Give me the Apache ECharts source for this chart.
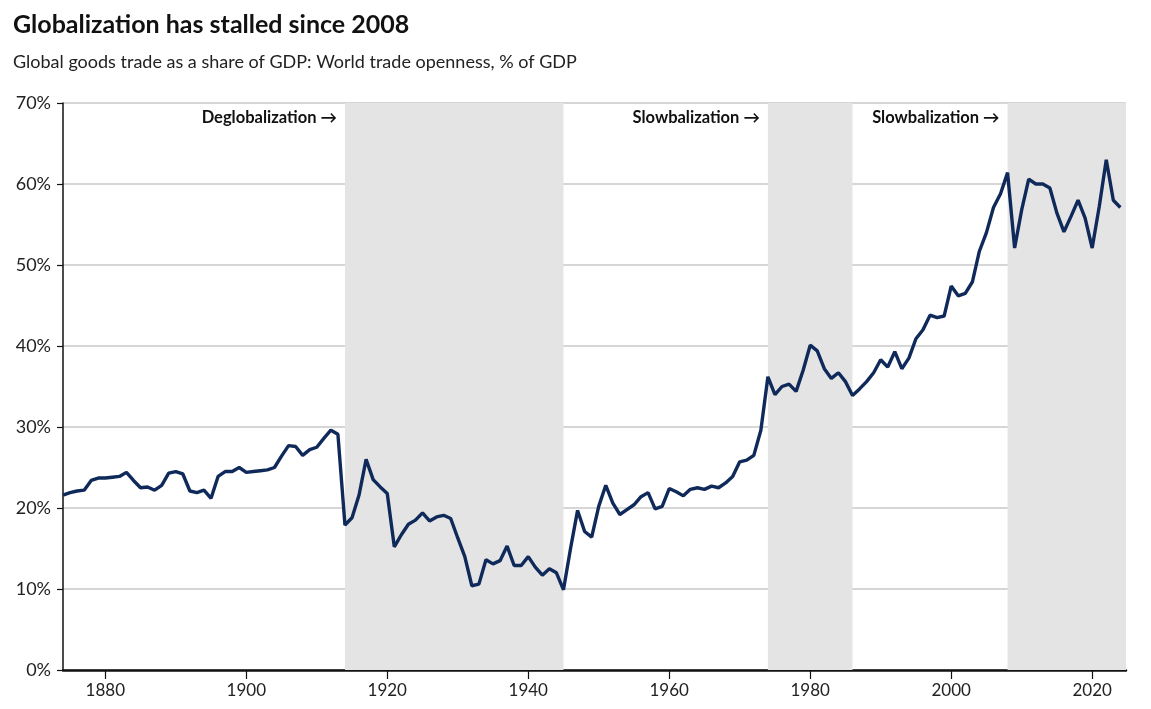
<!DOCTYPE html>
<html>
<head>
<meta charset="utf-8">
<script src="https://cdn.jsdelivr.net/npm/echarts@6/dist/echarts.min.js"></script>
<style>
  html, body { margin: 0; padding: 0; background: #fff; }
  #chart { width: 1151px; height: 709px; }
</style>
</head>
<body>
<div id="chart"></div>
<script>
// world trade openness, % of GDP, one value per year from firstYear
var firstYear = 1874;
var openness = [
    21.6, 21.9, 22.1, 22.2, 23.4, 23.7, 23.7, 23.8, 23.9, 24.4, // 1874-1883
    23.4, 22.5, 22.6, 22.2, 22.8, 24.3, 24.5, 24.2, 22.1, 21.9, // 1884-1893
    22.2, 21.2, 23.9, 24.5, 24.5, 25.0, 24.4, 24.5, 24.6, 24.7, // 1894-1903
    25.0, 26.4, 27.7, 27.6, 26.5, 27.2, 27.5, 28.6, 29.6, 29.1, // 1904-1913
    17.9, 18.8, 21.6, 26.0, 23.5, 22.6, 21.8, 15.2, 16.7, 18.0, // 1914-1923
    18.5, 19.4, 18.4, 18.9, 19.1, 18.7, 16.3, 14.0, 10.4, 10.6, // 1924-1933
    13.6, 13.1, 13.5, 15.3, 12.9, 12.9, 14.0, 12.7, 11.7, 12.5, // 1934-1943
    12.0, 9.9, 15.0, 19.7, 17.1, 16.4, 20.2, 22.8, 20.6, 19.2,  // 1944-1953
    19.8, 20.4, 21.4, 21.9, 19.9, 20.2, 22.4, 22.0, 21.5, 22.3, // 1954-1963
    22.5, 22.3, 22.7, 22.5, 23.1, 23.9, 25.7, 25.9, 26.5, 29.6, // 1964-1973
    36.2, 34.0, 35.0, 35.3, 34.4, 37.0, 40.1, 39.4, 37.2, 36.0, // 1974-1983
    36.7, 35.6, 33.9, 34.7, 35.6, 36.7, 38.3, 37.4, 39.3, 37.2, // 1984-1993
    38.5, 40.9, 42.0, 43.8, 43.5, 43.7, 47.4, 46.2, 46.5, 47.9, // 1994-2003
    51.7, 54.0, 57.1, 58.8, 61.4, 52.1, 56.8, 60.6, 60.0, 60.0, // 2004-2013
    59.5, 56.4, 54.1, 56.0, 58.0, 55.8, 52.1, 57.2, 63.0, 58.0, // 2014-2023
    57.1                                                        // 2024
];

var tickYears = [1880, 1900, 1920, 1940, 1960, 1980, 2000, 2020];

// shaded periods
var shadeStarts = [1914, 1974, 2008];
var shadeEnds = [1945, 1986, 2024.8];
var shadeLabels = ['Deglobalization \u2192', 'Slowbalization \u2192', 'Slowbalization \u2192'];

var chart = echarts.init(document.getElementById('chart'));

var lineData = [];
for (var i = 0; i < openness.length; i++) {
    lineData.push([firstYear + i, openness[i]]);
}

var areas = [];
for (var j = 0; j < shadeStarts.length; j++) {
    areas.push([
        { xAxis: shadeStarts[j], name: shadeLabels[j] },
        { xAxis: shadeEnds[j] }
    ]);
}

var font = 'Lato';

var option = {
    animation: false,
    textStyle: { fontFamily: font },
    title: {
        text: 'Globalization has stalled since 2008',
        subtext: 'Global goods trade as a share of GDP: World trade openness, % of GDP',
        left: 8,
        top: 7,
        itemGap: 16,
        textStyle: { fontFamily: font, fontSize: 25, fontWeight: 'bold', color: '#111' },
        subtextStyle: { fontFamily: font, fontSize: 18, color: '#222' }
    },
    grid: { left: 63, right: 25, top: 103, bottom: 39 },
    xAxis: {
        type: 'value',
        min: firstYear,
        max: 2024.8,
        splitLine: { show: false },
        axisLine: { show: true, onZero: false, lineStyle: { color: '#111', width: 2.5 } },
        axisTick: { show: true, customValues: tickYears, length: 9, lineStyle: { color: '#111', width: 1.2 } },
        axisLabel: {
            customValues: tickYears,
            formatter: function(v) { return String(v); },
            fontSize: 17, color: '#222', margin: 12, fontFamily: font
        }
    },
    yAxis: {
        type: 'value',
        min: 0,
        max: 70,
        interval: 10,
        axisLine: { show: true, lineStyle: { color: '#111', width: 1.5 } },
        axisTick: { show: true, length: 6, lineStyle: { color: '#111', width: 1.2 } },
        axisLabel: { formatter: '{value}%', fontSize: 18, color: '#222', margin: 12, fontFamily: font },
        splitLine: { show: true, lineStyle: { color: '#c8c8c8', width: 1.5 } }
    },
    series: [{
        type: 'line',
        data: lineData,
        showSymbol: false,
        lineStyle: { color: '#0f2a5a', width: 3.4 },
        z: 5,
        markArea: {
            silent: true,
            itemStyle: { color: '#e4e4e4' },
            label: {
                show: true,
                position: [-8, 6],
                align: 'right',
                verticalAlign: 'top',
                fontFamily: font,
                fontSize: 16.5,
                fontWeight: 'bold',
                color: '#111'
            },
            data: areas
        }
    }]
};

chart.setOption(option);
</script>
</body>
</html>
